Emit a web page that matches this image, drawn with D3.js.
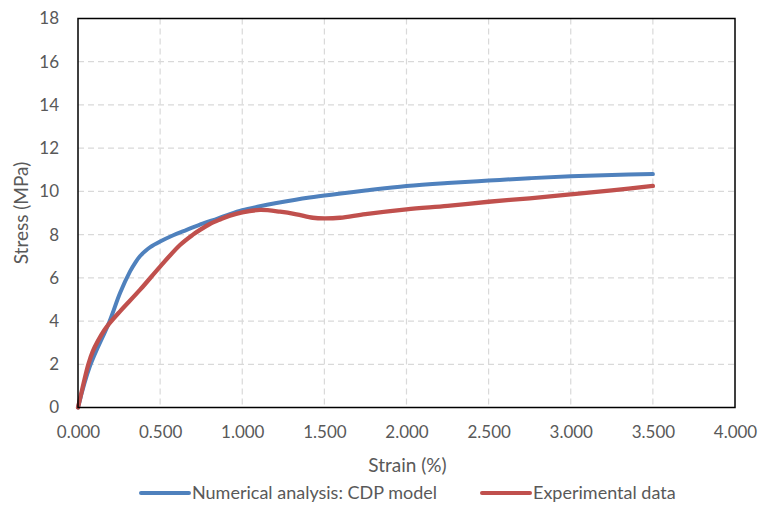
<!DOCTYPE html>
<html>
<head>
<meta charset="utf-8">
<script src="https://cdn.jsdelivr.net/npm/d3@7"></script>
<style>
  html, body { margin: 0; padding: 0; background: #fff; }
  svg { display: block; font-family: Lato, "Open Sans", sans-serif; }
</style>
</head>
<body>
<svg id="chart" width="759" height="507"></svg>
<script>
// Strain (%) / stress (MPa) curves
const numStrain = [0, 0.072, 0.19, 0.256, 0.317, 0.35, 0.377, 0.41, 0.44, 0.50, 0.58, 0.662, 0.763, 0.85, 0.925, 1.00, 1.10, 1.20, 1.41, 1.60, 1.75, 2.00, 2.25, 2.50, 2.75, 3.00, 3.25, 3.50];
const numStress = [0, 1.9, 3.95, 5.3, 6.3, 6.72, 7.0, 7.24, 7.42, 7.68, 7.97, 8.22, 8.52, 8.74, 8.95, 9.13, 9.3, 9.45, 9.72, 9.9, 10.04, 10.25, 10.39, 10.5, 10.61, 10.7, 10.76, 10.8];

const expStrain = [0, 0.032, 0.063, 0.09, 0.12, 0.158, 0.19, 0.256, 0.377, 0.50, 0.621, 0.70, 0.743, 0.80, 0.865, 0.925, 1.00, 1.108, 1.23, 1.33, 1.43, 1.50, 1.595, 1.75, 2.00, 2.25, 2.50, 2.75, 3.00, 3.25, 3.50];
const expStress = [0, 1.05, 2.0, 2.6, 3.06, 3.55, 3.88, 4.45, 5.44, 6.52, 7.52, 8.0, 8.22, 8.48, 8.7, 8.88, 9.03, 9.14, 9.06, 8.94, 8.78, 8.75, 8.78, 8.95, 9.17, 9.33, 9.52, 9.68, 9.86, 10.05, 10.25];

const xTicks = [0, 0.5, 1, 1.5, 2, 2.5, 3, 3.5, 4];
const yTicks = [0, 2, 4, 6, 8, 10, 12, 14, 16, 18];

const seriesNames = ["Numerical analysis: CDP model", "Experimental data"];
const seriesColors = ["#4F81BD", "#C0504D"];

const svg = d3.select("#chart");
const m = { left: 78, top: 18.5, right: 735, bottom: 407.5 };

const x = d3.scaleLinear().domain([0, 4]).range([m.left, m.right]);
const y = d3.scaleLinear().domain([0, 18]).range([m.bottom, m.top]);

const textColor = "#595959";

// gridlines
const grid = svg.append("g");
grid.selectAll("line.h").data(yTicks.slice(1, -1)).join("line")
  .attr("x1", m.left).attr("x2", m.right)
  .attr("y1", d => y(d)).attr("y2", d => y(d))
  .attr("stroke", "#d9d9d9").attr("stroke-width", 1.2).attr("stroke-dasharray", "6,4");
grid.selectAll("line.v").data(xTicks.slice(1, -1)).join("line")
  .attr("y1", m.top).attr("y2", m.bottom)
  .attr("x1", d => x(d)).attr("x2", d => x(d))
  .attr("stroke", "#d9d9d9").attr("stroke-width", 1.2).attr("stroke-dasharray", "6,4");

// axes (labels only; frame drawn separately)
const xAxis = svg.append("g").attr("transform", `translate(0,${m.bottom})`)
  .call(d3.axisBottom(x).tickValues(xTicks).tickFormat(d3.format(".3f")).tickSize(0).tickPadding(18));
const yAxis = svg.append("g").attr("transform", `translate(${m.left},0)`)
  .call(d3.axisLeft(y).tickValues(yTicks).tickFormat(d3.format("d")).tickSize(0).tickPadding(19));
[xAxis, yAxis].forEach(a => {
  a.select(".domain").remove();
  a.selectAll("text").attr("fill", textColor).style("font-size", "17px").style("font-family", "Lato, 'Open Sans', sans-serif");
});

// curves
const line = d3.line().x(d => x(d[0])).y(d => y(d[1])).curve(d3.curveCatmullRom.alpha(0.5));
const series = [
  d3.zip(numStrain, numStress),
  d3.zip(expStrain, expStress)
];
svg.append("g").selectAll("path").data(series).join("path")
  .attr("d", line)
  .attr("fill", "none")
  .attr("stroke", (d, i) => seriesColors[i])
  .attr("stroke-width", (d, i) => i === 1 ? 4.3 : 4)
  .attr("stroke-linecap", "round")
  .attr("stroke-linejoin", "round");

// plot frame
svg.append("rect")
  .attr("x", m.left).attr("y", m.top)
  .attr("width", m.right - m.left).attr("height", m.bottom - m.top)
  .attr("fill", "none").attr("stroke", "#000").attr("stroke-width", 1.5);

// axis titles
svg.append("text").attr("x", (m.left + m.right) / 2 + 1).attr("y", 472)
  .attr("text-anchor", "middle").attr("fill", textColor).style("font-size", "19px")
  .text("Strain (%)");
svg.append("text").attr("transform", `translate(28,${(m.top + m.bottom) / 2}) rotate(-90)`)
  .attr("text-anchor", "middle").attr("fill", textColor).style("font-size", "19px")
  .text("Stress (MPa)");

// legend
const legendX = [141, 482];
const lg = svg.append("g").selectAll("g").data(seriesNames).join("g")
  .attr("transform", (d, i) => `translate(${legendX[i]},493)`);
lg.append("line").attr("x1", 0).attr("x2", 48).attr("y1", 0).attr("y2", 0)
  .attr("stroke", (d, i) => seriesColors[i]).attr("stroke-width", 4).attr("stroke-linecap", "round");
lg.append("text").attr("x", 51).attr("y", 6).attr("fill", textColor).style("font-size", "18px")
  .text(d => d);
</script>
</body>
</html>
